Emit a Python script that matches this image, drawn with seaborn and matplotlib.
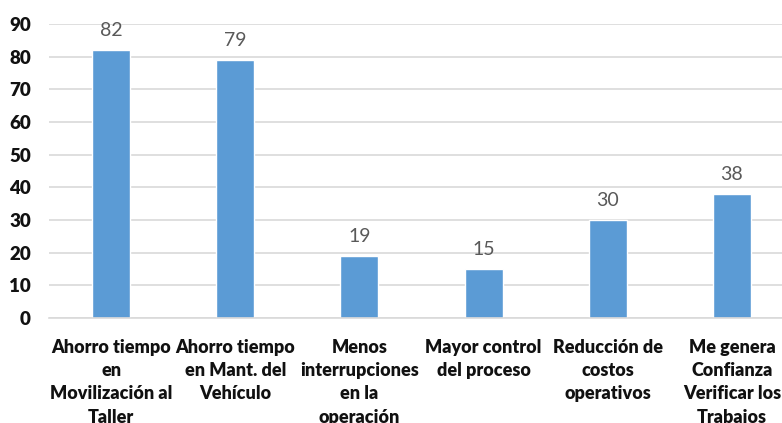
import matplotlib
matplotlib.use("Agg")
import matplotlib.pyplot as plt
import seaborn as sns
import pandas as pd

categories = [
    "Ahorro tiempo\nen\nMovilización al\nTaller",
    "Ahorro tiempo\nen Mant. del\nVehículo",
    "Menos\ninterrupciones\nen la\noperación",
    "Mayor control\ndel proceso",
    "Reducción de\ncostos\noperativos",
    "Me genera\nConfianza\nVerificar los\nTrabajos",
]
values = [82, 79, 19, 15, 30, 38]
yticks = [0, 10, 20, 30, 40, 50, 60, 70, 80, 90]

sns.set_theme(style="white")
plt.rcParams["font.family"] = ["Lato", "DejaVu Sans"]

df = pd.DataFrame({"cat": categories, "val": values})

fig = plt.figure(figsize=(7.82, 4.23), dpi=100)
ax = fig.add_axes([49 / 782, (423 - 318) / 423, 745 / 782, 294 / 423])

sns.barplot(data=df, x="cat", y="val", color="#5B9BD5", width=0.306,
            saturation=1, ax=ax)

for i, v in enumerate(values):
    ax.text(i, v + 3.3, str(v), ha="center", va="bottom", color="#595959",
            fontsize=14)

ax.set_ylim(0, 90)
ax.set_yticks(yticks)
ax.set_yticklabels([str(t) for t in yticks], fontweight="heavy", fontsize=13.5,
                   color="#111111")
ax.set_xlim(-0.5, len(values) - 0.5)
ax.set_xticks(range(len(values)))
ax.set_xticklabels(categories, fontweight="heavy", fontsize=13, color="#111111",
                   linespacing=1.45, va="top")
ax.tick_params(axis="x", length=0, pad=15)
ax.tick_params(axis="y", length=0, pad=13)
ax.set_xlabel("")
ax.set_ylabel("")
ax.yaxis.grid(True, color="#D9D9D9", linewidth=1.2)
ax.set_axisbelow(True)
for s in ["top", "right", "left"]:
    ax.spines[s].set_visible(False)
ax.spines["bottom"].set_color("#D9D9D9")
ax.spines["bottom"].set_linewidth(1.2)

fig.savefig("out.png", dpi=100)
